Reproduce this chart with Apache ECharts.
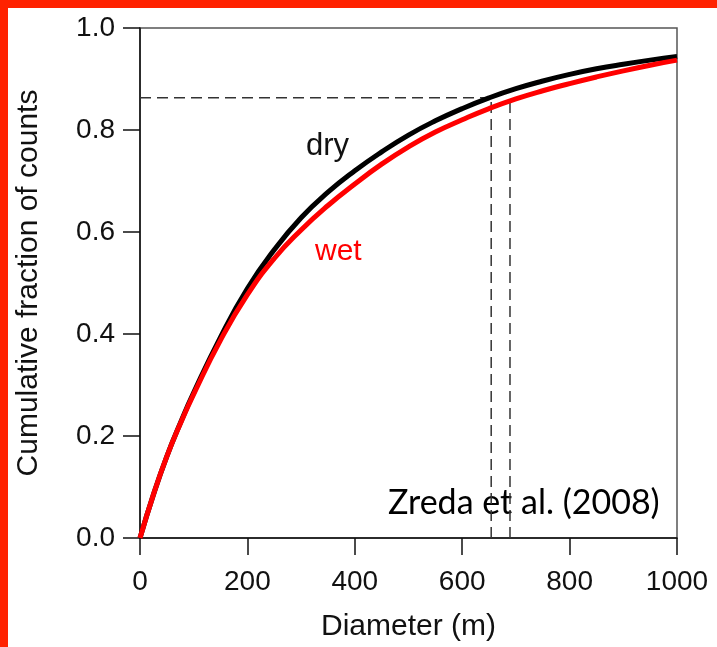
<!DOCTYPE html>
<html>
<head>
<meta charset="utf-8">
<script src="https://cdn.jsdelivr.net/npm/echarts@6/dist/echarts.min.js"></script>
<style>
html,body{margin:0;padding:0;background:#fff;}
#chart{width:717px;height:647px;}
</style>
</head>
<body>
<div id="chart"></div>
<script>
// Data
const diameters = [0,25,50,75,100,150,200,250,300,350,400,450,500,550,600,650,700,750,800,850,900,950,1000];
const dryFraction = [0,0.085,0.16,0.225,0.285,0.394,0.489,0.565,0.628,0.678,0.72,0.757,0.79,0.818,0.842,0.863,0.881,0.896,0.909,0.92,0.929,0.937,0.944];
const wetFraction = [0,0.085,0.16,0.224,0.282,0.388,0.477,0.548,0.604,0.652,0.694,0.733,0.767,0.796,0.82,0.842,0.861,0.877,0.891,0.904,0.916,0.927,0.937];
const refFraction = 0.863;
const refDiameterDry = 654;
const refDiameterWet = 689;
const xTicks = [0,200,400,600,800,1000];
const yTicks = [0.0,0.2,0.4,0.6,0.8,1.0];

const hDash = [[0, refFraction], [refDiameterDry, refFraction]];
const vDashDry = [[refDiameterDry, 0], [refDiameterDry, refFraction]];
const vDashWet = [[refDiameterWet, 0], [refDiameterWet, refFraction]];

const chart = echarts.init(document.getElementById('chart'));
const sans = 'Liberation Sans, Arial, Helvetica, sans-serif';
const dashStyle = {color:'#333', width:1.5, type:[11,6]};

chart.setOption({
  animation:false,
  backgroundColor:'#fff',
  grid:{left:140, top:28, right:40, bottom:109, show:true, borderColor:'#555', borderWidth:1.5},
  xAxis:{
    type:'value', min:0, max:1000, interval:200,
    name:'Diameter (m)', nameLocation:'middle', nameGap:74,
    nameTextStyle:{fontFamily:sans, fontSize:30, color:'#111'},
    axisLine:{show:true, lineStyle:{color:'#111', width:1.5}},
    axisTick:{show:true, length:17, lineStyle:{color:'#111', width:1.5}},
    axisLabel:{fontFamily:sans, fontSize:28, color:'#111', margin:30,
      formatter:v=> xTicks.includes(v) ? String(v) : ''},
    splitLine:{show:false}
  },
  yAxis:{
    type:'value', min:0, max:1, interval:0.2,
    name:'Cumulative fraction of counts', nameLocation:'middle', nameGap:96,
    nameTextStyle:{fontFamily:sans, fontSize:30, color:'#111'},
    axisLine:{show:true, lineStyle:{color:'#111', width:1.5}},
    axisTick:{show:true, length:17, lineStyle:{color:'#111', width:1.5}},
    axisLabel:{fontFamily:sans, fontSize:28, color:'#111', margin:25,
      formatter:v=> yTicks.some(t=>Math.abs(t-v)<1e-9) ? v.toFixed(1) : ''},
    splitLine:{show:false}
  },
  series:[
    {type:'line', data:hDash, symbol:'none', lineStyle:dashStyle, silent:true},
    {type:'line', data:vDashDry, symbol:'none', lineStyle:dashStyle, silent:true},
    {type:'line', data:vDashWet, symbol:'none', lineStyle:dashStyle, silent:true},
    {name:'dry', type:'line', smooth:0.5, symbol:'none',
     data:diameters.map((d,i)=>[d, dryFraction[i]]),
     lineStyle:{color:'#000', width:5}},
    {name:'wet', type:'line', smooth:0.5, symbol:'none',
     data:diameters.map((d,i)=>[d, wetFraction[i]]),
     lineStyle:{color:'#ff0000', width:5}}
  ],
  graphic:[
    {type:'rect', shape:{x:0,y:0,width:717,height:8}, style:{fill:'#ff2200'}},
    {type:'rect', shape:{x:0,y:0,width:8,height:647}, style:{fill:'#ff2200'}},
    {type:'text', left:306, top:131, style:{text:'dry', fontFamily:sans, fontSize:31, fill:'#111'}},
    {type:'text', left:315, top:237, style:{text:'wet', fontFamily:sans, fontSize:30, fill:'#ff0000'}},
    {type:'text', left:388, top:486, style:{text:'Zreda et al. (2008)', fontFamily:'Lato, Open Sans, sans-serif', fontSize:34, fill:'#000'}}
  ]
});
</script>
</body>
</html>
